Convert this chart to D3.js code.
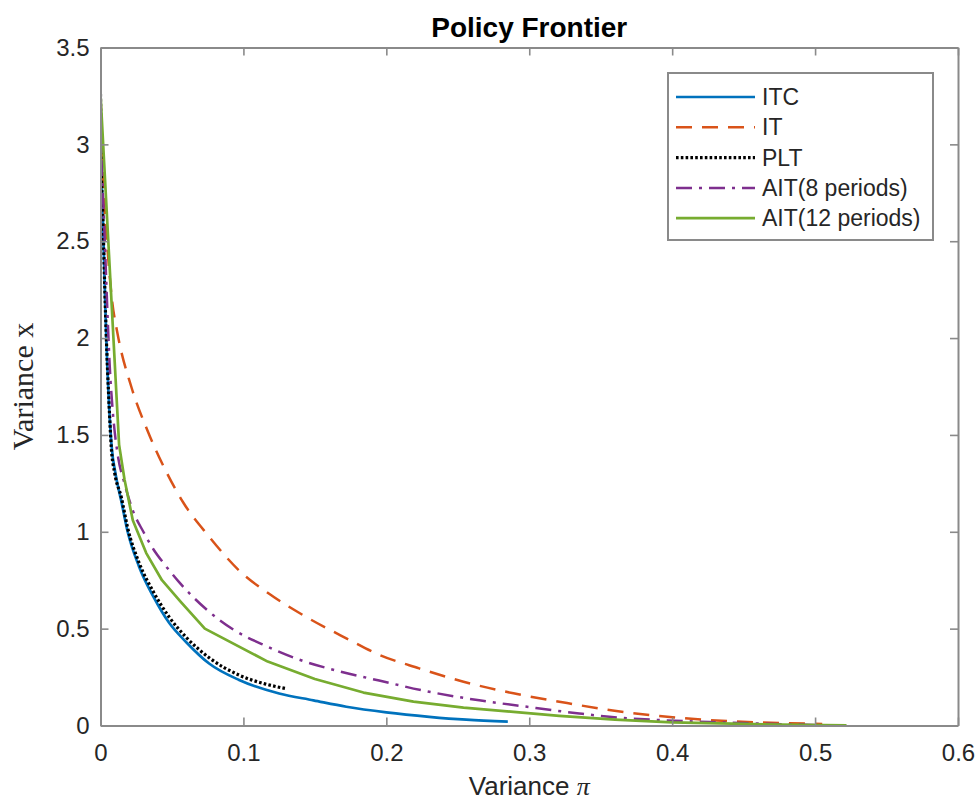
<!DOCTYPE html>
<html>
<head>
<meta charset="utf-8">
<script src="https://cdn.jsdelivr.net/npm/d3@7"></script>
<style>
  html, body { margin: 0; padding: 0; background: #fff; }
  svg { display: block; }
</style>
</head>
<body>
<svg id="chart" width="979" height="802"></svg>
<script>
// Policy frontier: variance of output gap (x) against variance of inflation (pi)
const seriesNames = ["ITC", "IT", "PLT", "AIT(8 periods)", "AIT(12 periods)"];

const itcPi = [0, 0.0005, 0.0016, 0.0035, 0.0063, 0.0078, 0.0105, 0.0145, 0.019, 0.027, 0.037, 0.048, 0.060, 0.076, 0.097, 0.125, 0.149, 0.172, 0.200, 0.230, 0.256, 0.285];
const itcX  = [3.26, 2.95, 2.64, 2.13, 1.61, 1.44, 1.30, 1.16, 1.00, 0.82, 0.665, 0.53, 0.43, 0.32, 0.235, 0.165, 0.13, 0.097, 0.068, 0.045, 0.030, 0.020];

const itPi = [0, 0.002, 0.005, 0.008, 0.012, 0.0215, 0.033, 0.046, 0.058, 0.076, 0.097, 0.118, 0.144, 0.172, 0.195, 0.223, 0.254, 0.289, 0.321, 0.356, 0.391, 0.426, 0.461, 0.505];
const itX  = [3.26, 2.80, 2.45, 2.20, 2.02, 1.75, 1.52, 1.31, 1.15, 0.975, 0.80, 0.68, 0.56, 0.45, 0.365, 0.295, 0.226, 0.166, 0.123, 0.080, 0.049, 0.028, 0.016, 0.008];

const pltPi = [0, 0.0004, 0.0016, 0.0035, 0.0063, 0.0075, 0.010, 0.0145, 0.019, 0.027, 0.037, 0.048, 0.060, 0.076, 0.097, 0.115, 0.130];
const pltX  = [3.26, 2.95, 2.64, 2.13, 1.61, 1.44, 1.30, 1.18, 1.02, 0.84, 0.69, 0.56, 0.455, 0.35, 0.26, 0.215, 0.19];

const ait8Pi = [0, 0.001, 0.0025, 0.004, 0.0065, 0.0086, 0.012, 0.0168, 0.0226, 0.030, 0.037, 0.045, 0.055, 0.074, 0.093, 0.116, 0.139, 0.167, 0.195, 0.230, 0.265, 0.300, 0.335, 0.356, 0.391, 0.426, 0.460, 0.500];
const ait8X  = [3.26, 2.90, 2.60, 2.30, 1.85, 1.62, 1.40, 1.25, 1.11, 1.00, 0.91, 0.83, 0.74, 0.60, 0.495, 0.41, 0.34, 0.28, 0.232, 0.174, 0.13, 0.095, 0.062, 0.045, 0.028, 0.018, 0.010, 0.003];

const ait12Pi = [0, 0.013, 0.0168, 0.0226, 0.032, 0.043, 0.056, 0.073, 0.117, 0.150, 0.184, 0.219, 0.254, 0.289, 0.321, 0.360, 0.400, 0.450, 0.490, 0.522];
const ait12X  = [3.26, 1.45, 1.27, 1.06, 0.89, 0.75, 0.64, 0.50, 0.33, 0.24, 0.17, 0.123, 0.092, 0.070, 0.050, 0.030, 0.016, 0.008, 0.003, 0.001];

const xTicks = [0, 0.1, 0.2, 0.3, 0.4, 0.5, 0.6];
const yTicks = [0, 0.5, 1, 1.5, 2, 2.5, 3, 3.5];

const seriesColors = ["#0072BD", "#D95319", "#000000", "#7E2F8E", "#77AC30"];
const seriesDash = [null, "16,10", "2.6,2.2", "16,7,3,7", null];
const seriesWidth = [2.7, 2.5, 3.2, 2.5, 2.7];
const seriesSmooth = [true, true, true, true, false];

const series = [
  [itcPi, itcX], [itPi, itX], [pltPi, pltX], [ait8Pi, ait8X], [ait12Pi, ait12X]
].map(([px, vx], i) => ({
  name: seriesNames[i],
  values: px.map((p, k) => ({ p: p, v: vx[k] }))
}));

const svg = d3.select("#chart");
const plotL = 100.5, plotR = 958, plotT = 47.5, plotB = 725.5;
const axisColor = "#8a8a8a";
const textColor = "#262626";

const x = d3.scaleLinear().domain([0, 0.6]).range([plotL, plotR]);
const y = d3.scaleLinear().domain([0, 3.5]).range([plotB, plotT]);

// plotting area clip
svg.append("defs").append("clipPath").attr("id", "plotClip")
  .append("rect").attr("x", plotL).attr("y", plotT)
  .attr("width", plotR - plotL).attr("height", plotB - plotT);

// curves
const plot = svg.append("g").attr("clip-path", "url(#plotClip)");
series.forEach((s, i) => {
  const line = d3.line()
    .x(d => x(d.p)).y(d => y(d.v))
    .curve(seriesSmooth[i] ? d3.curveMonotoneX : d3.curveLinear);
  plot.append("path")
    .datum(s.values)
    .attr("d", line)
    .attr("fill", "none")
    .attr("stroke", seriesColors[i])
    .attr("stroke-width", seriesWidth[i])
    .attr("stroke-dasharray", seriesDash[i])
    .attr("stroke-linejoin", "round");
});

// axes (box with inward ticks on all four sides)
const tickLen = 8;
const xAxisB = d3.axisBottom(x).tickValues(xTicks).tickFormat(d3.format("~g")).tickSizeInner(-tickLen).tickSizeOuter(0).tickPadding(18);
const xAxisT = d3.axisTop(x).tickValues(xTicks).tickFormat("").tickSizeInner(-tickLen).tickSizeOuter(0);
const yAxisL = d3.axisLeft(y).tickValues(yTicks).tickFormat(d3.format("~g")).tickSizeInner(-tickLen).tickSizeOuter(0).tickPadding(11);
const yAxisR = d3.axisRight(y).tickValues(yTicks).tickFormat("").tickSizeInner(-tickLen).tickSizeOuter(0);

function styleAxis(g) {
  g.select(".domain").attr("stroke", axisColor).attr("stroke-width", 2);
  g.selectAll(".tick line").attr("stroke", axisColor).attr("stroke-width", 1.6);
  g.selectAll(".tick text")
    .attr("fill", textColor)
    .attr("font-family", "'Liberation Sans', Arial, sans-serif")
    .attr("font-size", 24);
}

svg.append("g").attr("transform", `translate(0,${plotB})`).call(xAxisB).call(styleAxis);
svg.append("g").attr("transform", `translate(0,${plotT})`).call(xAxisT).call(styleAxis);
svg.append("g").attr("transform", `translate(${plotL},0)`).call(yAxisL).call(styleAxis);
svg.append("g").attr("transform", `translate(${plotR},0)`).call(yAxisR).call(styleAxis);

// title
svg.append("text")
  .attr("x", (plotL + plotR) / 2).attr("y", 37)
  .attr("text-anchor", "middle")
  .attr("font-family", "'Liberation Sans', Arial, sans-serif")
  .attr("font-weight", "bold").attr("font-size", 28)
  .attr("fill", "#000")
  .text("Policy Frontier");

// x label: sans text with italic serif pi
const xl = svg.append("text")
  .attr("x", (plotL + plotR) / 2).attr("y", 795)
  .attr("text-anchor", "middle")
  .attr("font-family", "'Liberation Sans', Arial, sans-serif")
  .attr("font-size", 26)
  .attr("fill", textColor);
xl.append("tspan").text("Variance ");
xl.append("tspan").attr("font-family", "'Liberation Serif', 'Times New Roman', serif")
  .attr("font-style", "italic").text("π");

// y label in serif
svg.append("text")
  .attr("transform", `translate(33,${(plotT + plotB) / 2}) rotate(-90)`)
  .attr("text-anchor", "middle")
  .attr("font-family", "'Liberation Serif', 'Times New Roman', serif")
  .attr("font-size", 30)
  .attr("fill", textColor)
  .text("Variance x");

// legend
const legend = svg.append("g");
legend.append("rect")
  .attr("x", 668).attr("y", 73).attr("width", 265).attr("height", 167)
  .attr("fill", "#fff").attr("stroke", axisColor).attr("stroke-width", 2);
series.forEach((s, i) => {
  const ly = 97 + i * 30.3;
  legend.append("line")
    .attr("x1", 676).attr("x2", 755).attr("y1", ly).attr("y2", ly)
    .attr("stroke", seriesColors[i])
    .attr("stroke-width", seriesWidth[i])
    .attr("stroke-dasharray", seriesDash[i]);
  legend.append("text")
    .attr("x", 762).attr("y", ly + 8)
    .attr("font-family", "'Liberation Sans', Arial, sans-serif")
    .attr("font-size", 23)
    .attr("fill", textColor)
    .text(s.name);
});
</script>
</body>
</html>
